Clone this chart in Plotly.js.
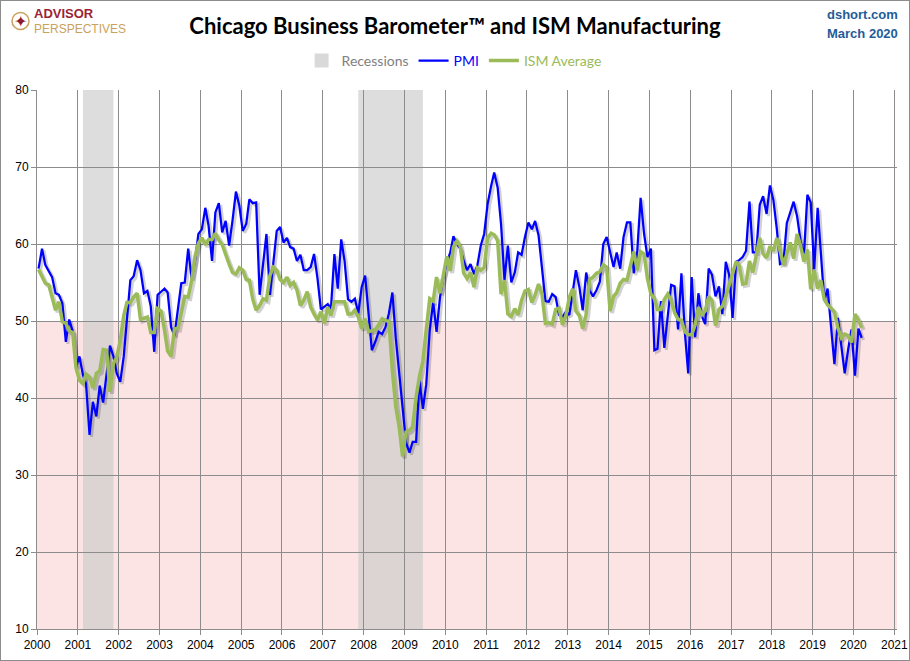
<!DOCTYPE html>
<html>
<head>
<meta charset="utf-8">
<title>Chicago Business Barometer and ISM Manufacturing</title>
<script src="https://cdn.plot.ly/plotly-3.0.1.min.js"></script>
<style>
  body { margin: 0; background: #fff; }
  #chart { width: 908px; height: 659px; border: 1px solid #8c8c8c; }
</style>
</head>
<body>
<div id="chart"></div>
<script>
// monthly readings, Jan 2000 .. Mar 2020 (one row per year)
const firstYear = 2000;

const pmiValues = [
  56.8, 59.4, 57.3, 56.4, 55.7, 53.6, 53.4, 52.3, 47.3, 50.2, 48.7, 44.0,
  45.4, 43.0, 41.8, 35.2, 39.5, 37.6, 41.6, 39.4, 43.0, 46.8, 45.4, 43.2,
  42.1, 45.4, 50.1, 55.3, 55.8, 57.9, 56.6, 53.6, 53.9, 51.9, 46.0, 53.4,
  53.8, 54.2, 53.7, 49.2, 48.1, 51.4, 54.9, 55.0, 59.4, 55.5, 57.8, 61.3,
  61.9, 64.7, 62.4, 57.8, 64.1, 65.3, 61.5, 63.0, 59.8, 63.0, 66.8, 65.0,
  61.7, 62.6, 65.8, 65.3, 65.4, 53.4, 57.0, 61.3, 53.4, 57.4, 61.7, 62.2,
  60.2, 60.8, 59.6, 59.4, 57.8, 58.6, 56.6, 56.6, 57.0, 58.7, 55.5, 51.5,
  51.9, 52.2, 51.6, 58.7, 54.2, 60.6, 57.8, 52.8, 52.5, 52.9, 51.0, 54.4,
  55.9, 51.0, 46.2, 47.3, 48.6, 48.3, 49.2, 51.0, 53.7, 47.8, 43.3, 38.7,
  34.2, 32.9, 34.3, 34.3, 42.3, 38.6, 41.8, 48.8, 52.5, 48.6, 53.1, 55.7,
  57.6, 58.9, 61.0, 60.0, 59.4, 57.8, 56.6, 57.4, 56.1, 57.2, 59.8, 61.3,
  65.2, 67.5, 69.3, 67.3, 62.6, 55.3, 59.8, 55.0, 56.3, 58.9, 58.6, 60.9,
  62.8, 61.9, 63.0, 61.1, 56.6, 52.6, 52.5, 53.5, 53.1, 50.8, 50.5, 51.2,
  50.8, 54.0, 56.6, 54.4, 51.4, 56.3, 54.0, 53.2, 54.0, 55.1, 60.0, 60.9,
  59.1, 57.0, 58.9, 56.8, 60.9, 62.8, 62.8, 56.2, 59.1, 66.0, 61.3, 58.3,
  59.4, 46.2, 46.4, 52.6, 46.5, 50.6, 54.7, 54.5, 48.9, 56.2, 48.5, 43.2,
  55.7, 47.9, 53.6, 50.6, 49.6, 56.8, 56.0, 53.2, 54.5, 50.9, 57.7, 56.0,
  50.4, 57.7, 57.9, 58.3, 59.1, 65.5, 58.9, 58.9, 65.1, 66.2, 63.9, 67.6,
  65.7, 61.9, 57.4, 57.6, 62.7, 64.1, 65.5, 63.6, 60.4, 58.4, 66.4, 65.4,
  56.7, 64.7, 58.7, 52.6, 54.2, 49.7, 44.4, 50.4, 47.1, 43.2, 46.3, 48.9,
  42.9, 49.0, 47.8
];

const ismValues = [
  56.7, 55.8, 54.9, 54.7, 53.2, 51.4, 52.5, 49.9, 49.7, 48.7, 48.5, 43.9,
  42.3, 41.9, 43.1, 42.7, 41.3, 43.2, 43.5, 46.3, 46.2, 40.8, 44.5, 45.3,
  47.5, 50.7, 52.4, 52.4, 53.1, 53.6, 50.2, 50.3, 50.5, 48.5, 48.5, 51.6,
  51.3, 48.8, 46.1, 45.4, 49.0, 49.0, 51.0, 53.2, 53.1, 55.2, 58.4, 60.1,
  60.8, 59.9, 60.6, 60.6, 61.4, 60.5, 59.9, 58.5, 57.4, 56.3, 56.1, 56.9,
  56.6, 55.4, 55.3, 52.8, 51.4, 52.0, 52.9, 52.7, 55.9, 57.0, 56.6, 55.4,
  55.0, 55.7, 54.6, 55.0, 54.0, 52.0, 52.7, 53.8, 51.8, 50.9, 50.1, 51.2,
  49.7, 51.8, 50.7, 52.5, 52.5, 52.6, 52.5, 50.9, 50.9, 51.4, 50.5, 49.0,
  50.3, 48.6, 48.8, 48.9, 49.5, 50.3, 50.1, 49.9, 43.5, 38.9, 36.2, 32.4,
  35.6, 35.8, 36.3, 40.1, 42.8, 44.8, 48.9, 52.9, 52.6, 55.7, 53.6, 55.9,
  58.4, 56.5, 59.6, 60.4, 59.7, 56.2, 55.5, 56.3, 54.4, 56.9, 56.6, 57.0,
  60.8, 61.4, 61.2, 60.4, 53.5, 55.3, 50.9, 50.6, 51.6, 50.8, 52.7, 53.9,
  54.1, 52.4, 53.4, 54.8, 53.5, 49.7, 49.8, 49.6, 51.5, 51.7, 49.5, 50.7,
  53.1, 54.2, 51.3, 50.7, 49.0, 50.9, 55.4, 55.7, 56.2, 56.4, 57.3, 57.0,
  51.3, 53.2, 53.7, 54.9, 55.4, 55.3, 57.1, 59.0, 56.6, 59.0, 58.7, 55.5,
  53.5, 52.9, 51.5, 51.5, 52.8, 53.5, 52.7, 51.1, 50.2, 50.1, 48.6, 48.2,
  48.2, 49.5, 51.8, 50.8, 51.3, 53.2, 52.6, 49.4, 51.5, 51.9, 53.2, 54.7,
  56.0, 57.7, 57.2, 54.8, 54.9, 57.8, 56.3, 58.8, 60.8, 58.7, 58.2, 59.7,
  59.1, 60.8, 59.3, 57.3, 58.7, 60.2, 58.1, 61.3, 59.8, 57.7, 59.3, 54.1,
  56.6, 54.2, 55.3, 52.8, 52.1, 51.7, 51.2, 49.1, 47.8, 48.3, 48.1, 47.2,
  50.9, 50.1, 49.1
];

// NBER recessions, as shaded on the chart
const recessionStart = ['2001-02-15', '2007-11-15'];
const recessionEnd   = ['2001-11-15', '2009-06-15'];

const contractionLevel = 50;
const yMin = 10, yMax = 80;
const xStart = '2000-01-01', xEnd = '2021-01-25';

// points sit in the middle of their month
function monthDates(n) {
  const out = [];
  for (let i = 0; i < n; i++) {
    const y = firstYear + Math.floor(i / 12);
    const m = (i % 12) + 1;
    out.push(y + '-' + String(m).padStart(2, '0') + '-15');
  }
  return out;
}

function msToDate(ms) {
  return new Date(ms).toISOString().replace('T', ' ').slice(0, 19);
}

const months = monthDates(pmiValues.length);

// drop shadow: same data on hidden axes nudged a couple of pixels
const plotW = 860, plotH = 539, shadowPx = 2;
const x0ms = Date.parse(xStart), x1ms = Date.parse(xEnd);
const dxMs = (x1ms - x0ms) / plotW * shadowPx;
const dy = (yMax - yMin) / plotH * shadowPx;
const shadowX = [msToDate(x0ms - dxMs), msToDate(x1ms - dxMs)];
const shadowY = [yMin + dy, yMax + dy];

const gridGray = '#8c8c8c';
const tickFont = {family: 'Liberation Sans, Arial, sans-serif', size: 12, color: '#000'};

const traces = [
  {
    x: [null], y: [null], type: 'scatter', mode: 'markers',
    name: '<span style="color:#7f7f7f">Recessions</span>',
    marker: {symbol: 'square', size: 14, color: '#d9d9d9'},
    hoverinfo: 'skip'
  },
  {
    x: months, y: pmiValues, type: 'scatter', mode: 'lines',
    xaxis: 'x2', yaxis: 'y2', showlegend: false, hoverinfo: 'skip',
    line: {color: 'rgba(0,0,0,0.18)', width: 3}
  },
  {
    x: months, y: ismValues, type: 'scatter', mode: 'lines',
    xaxis: 'x2', yaxis: 'y2', showlegend: false, hoverinfo: 'skip',
    line: {color: 'rgba(0,0,0,0.18)', width: 4}
  },
  {
    x: months, y: pmiValues, type: 'scatter', mode: 'lines',
    xaxis: 'x3', yaxis: 'y3',
    name: '<span style="color:#0000ff">PMI</span>',
    line: {color: '#0000ff', width: 2.25}
  },
  {
    x: months, y: ismValues, type: 'scatter', mode: 'lines',
    xaxis: 'x3', yaxis: 'y3',
    name: '<span style="color:#9bbb59">ISM Average</span>',
    line: {color: '#9bbb59', width: 3.5}
  }
];

const shapes = [
  {
    type: 'rect', layer: 'below', xref: 'paper', yref: 'y',
    x0: 0, x1: 1, y0: yMin, y1: contractionLevel,
    fillcolor: '#fde4e4', line: {width: 0}
  },
  // logo ring
  {
    type: 'circle', xref: 'paper', yref: 'paper',
    xsizemode: 'pixel', ysizemode: 'pixel',
    xanchor: -0.0192, yanchor: 1.128,
    x0: -8.5, x1: 8.5, y0: -8.5, y1: 8.5,
    line: {color: '#c9a25e', width: 1.5}
  }
];
recessionStart.forEach((s, i) => {
  shapes.push({
    type: 'rect', layer: 'below', xref: 'x', yref: 'paper',
    x0: s, x1: recessionEnd[i], y0: 0, y1: 1,
    fillcolor: 'rgb(201,201,201)', opacity: 0.63, line: {width: 0}
  });
});

const annotations = [
  {
    xref: 'paper', yref: 'paper', x: -0.0192, y: 1.128,
    text: '✦', showarrow: false, xanchor: 'center', yanchor: 'middle',
    font: {family: 'DejaVu Sans', size: 16, color: '#8e1b2b'}
  },
  {
    xref: 'paper', yref: 'paper', x: -0.0058, y: 1.128,
    text: '<span style="font-size:13px;color:#9b2335"><b>ADVISOR</b></span><br>' +
          '<span style="font-size:12px;color:#c9a25e">PERSPECTIVES</span>',
    showarrow: false, xanchor: 'left', yanchor: 'middle', align: 'left',
    font: {family: 'Liberation Sans, Arial, sans-serif', size: 11.5, color: '#9b2335'}
  },
  {
    xref: 'paper', yref: 'paper', x: 1.0035, y: 1.141,
    text: '<b>dshort.com</b>', showarrow: false, xanchor: 'right', yanchor: 'middle',
    font: {family: 'Liberation Sans, Arial, sans-serif', size: 13, color: '#1f5c99'}
  },
  {
    xref: 'paper', yref: 'paper', x: 1.0035, y: 1.1057,
    text: '<b>March 2020</b>', showarrow: false, xanchor: 'right', yanchor: 'middle',
    font: {family: 'Liberation Sans, Arial, sans-serif', size: 13, color: '#1f5c99'}
  }
];

const layout = {
  width: 908, height: 659,
  margin: {l: 36, r: 12, t: 89, b: 31},
  paper_bgcolor: '#fff', plot_bgcolor: '#fff',
  title: {
    text: '<b>Chicago Business Barometer™ and ISM Manufacturing</b>',
    font: {family: 'Lato, sans-serif', size: 22, color: '#000'},
    xref: 'container', x: 0.5, xanchor: 'center',
    yref: 'container', y: 0.962, yanchor: 'middle'
  },
  showlegend: true,
  legend: {
    orientation: 'h', x: 0.485, xanchor: 'center', y: 1.0538, yanchor: 'middle',
    font: {family: 'Lato, sans-serif', size: 14, color: '#7f7f7f'},
    itemwidth: 30, bgcolor: 'rgba(0,0,0,0)'
  },
  xaxis: {
    type: 'date', range: [xStart, xEnd],
    tick0: '2000-01-01', dtick: 'M12', tickformat: '%Y',
    showgrid: true, gridcolor: gridGray, gridwidth: 1,
    showline: true, linecolor: gridGray, linewidth: 1,
    ticks: 'outside', ticklen: 5, tickcolor: gridGray,
    zeroline: false, tickfont: tickFont, fixedrange: true
  },
  yaxis: {
    range: [yMin, yMax], dtick: 10,
    showgrid: true, gridcolor: gridGray, gridwidth: 1,
    showline: true, linecolor: gridGray, linewidth: 1,
    ticks: 'outside', ticklen: 5, tickcolor: gridGray,
    zeroline: false, tickfont: tickFont, fixedrange: true
  },
  xaxis2: {type: 'date', overlaying: 'x', range: shadowX, visible: false, fixedrange: true},
  yaxis2: {overlaying: 'y', range: shadowY, visible: false, fixedrange: true},
  xaxis3: {type: 'date', overlaying: 'x', range: [xStart, xEnd], visible: false, fixedrange: true},
  yaxis3: {overlaying: 'y', range: [yMin, yMax], visible: false, fixedrange: true},
  shapes: shapes,
  annotations: annotations,
  hovermode: false
};

Plotly.newPlot('chart', traces, layout, {displayModeBar: false, staticPlot: true});
</script>
</body>
</html>
